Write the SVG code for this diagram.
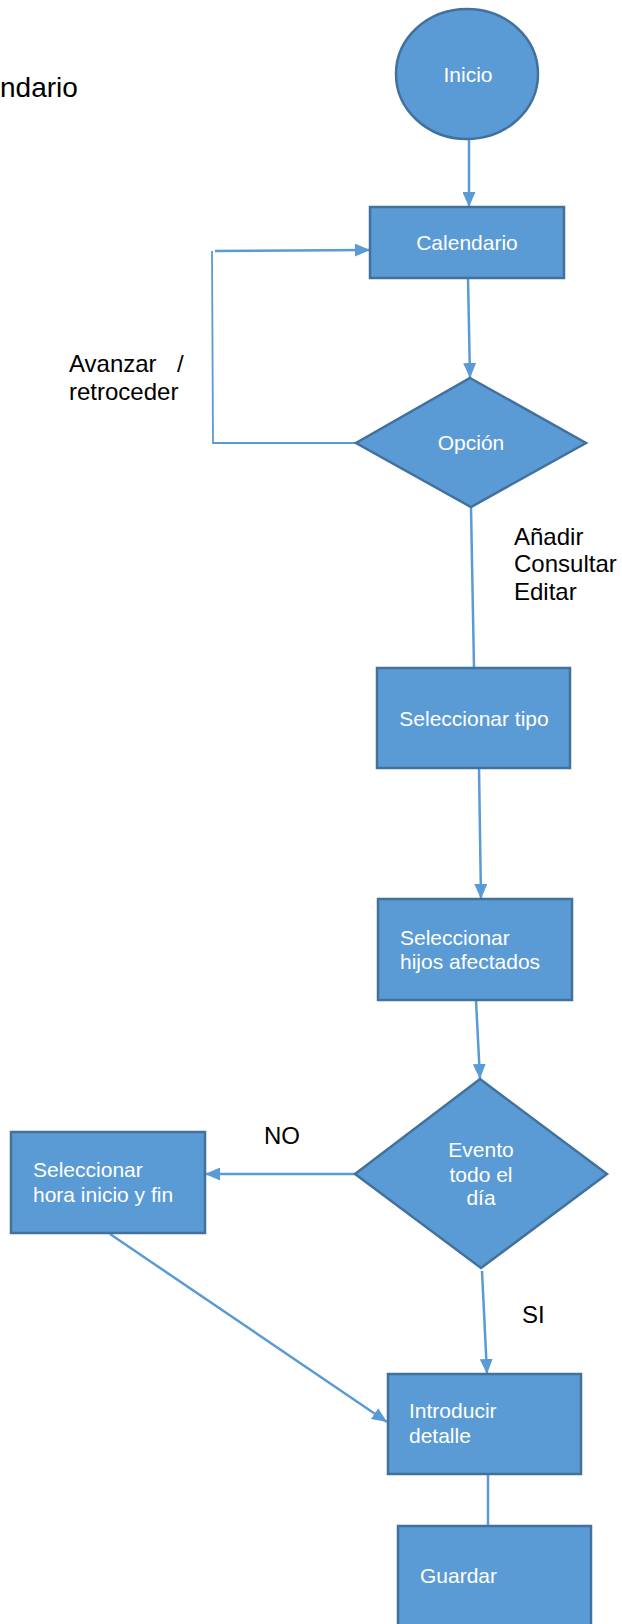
<svg xmlns="http://www.w3.org/2000/svg" width="622" height="1624" viewBox="0 0 622 1624">
<defs>
<marker id="arr" markerUnits="userSpaceOnUse" markerWidth="15" markerHeight="13" refX="15" refY="6.5" orient="auto">
<path d="M0,0 L15,6.5 L0,13 z" fill="#5B9BD5"/>
</marker>
<style>
.node{fill:#5B9BD5;stroke:#41719C;stroke-width:2.5}
.wt{fill:#FFFFFF;font-family:"Liberation Sans",Arial,sans-serif;font-size:21px}
.lbl{fill:#000000;font-family:"Liberation Sans",Arial,sans-serif;font-size:24px}
.con{fill:none;stroke:#5B9BD5;stroke-width:2.5}
.thin{fill:none;stroke:#5B9BD5;stroke-width:1.8}
</style>
</defs>
<rect width="622" height="1624" fill="#FFFFFF"/>
<text class="lbl" x="0" y="97" style="font-size:28px">ndario</text>

<g id="connectors">
<line class="con" x1="469" y1="140" x2="469" y2="207" marker-end="url(#arr)"/>
<line class="con" x1="468" y1="278" x2="470" y2="378" marker-end="url(#arr)"/>
<polyline class="thin" points="356,443 213,443 212,251"/>
<line class="con" x1="215" y1="251" x2="370" y2="250" marker-end="url(#arr)"/>
<line class="con" x1="471" y1="507" x2="474" y2="668"/>
<line class="con" x1="479" y1="768" x2="481" y2="899" marker-end="url(#arr)"/>
<line class="con" x1="476" y1="1000" x2="480" y2="1079" marker-end="url(#arr)"/>
<line class="con" x1="355" y1="1174" x2="205" y2="1174" marker-end="url(#arr)"/>
<line class="con" x1="110" y1="1234" x2="387" y2="1422" marker-end="url(#arr)"/>
<line class="con" x1="482" y1="1271" x2="487" y2="1374" marker-end="url(#arr)"/>
<line class="con" x1="488" y1="1474" x2="488" y2="1526"/>
</g>

<g id="labels">
<text class="lbl" x="69" y="372">Avanzar</text>
<text class="lbl" x="177" y="372">/</text>
<text class="lbl" x="69" y="400">retroceder</text>
<text class="lbl" x="514" y="545">Añadir</text>
<text class="lbl" x="514" y="572">Consultar</text>
<text class="lbl" x="514" y="600">Editar</text>
<text class="lbl" x="264" y="1144">NO</text>
<text class="lbl" x="522" y="1323">SI</text>
</g>

<g id="inicio">
<ellipse class="node" cx="467" cy="74" rx="71" ry="65"/>
<text class="wt" x="468" y="82" text-anchor="middle">Inicio</text>
</g>
<g id="calendario">
<rect class="node" x="370" y="207" width="194" height="71"/>
<text class="wt" x="467" y="250" text-anchor="middle">Calendario</text>
</g>
<g id="opcion">
<polygon class="node" points="470,378 586,443 471,507 356,443"/>
<text class="wt" x="471" y="450" text-anchor="middle">Opción</text>
</g>
<g id="seleccionar-tipo">
<rect class="node" x="377" y="668" width="193" height="100"/>
<text class="wt" x="474" y="726" text-anchor="middle">Seleccionar tipo</text>
</g>
<g id="seleccionar-hijos">
<rect class="node" x="378" y="899" width="194" height="101"/>
<text class="wt" x="400" y="945">Seleccionar</text>
<text class="wt" x="400" y="969">hijos afectados</text>
</g>
<g id="evento">
<polygon class="node" points="480,1079 607,1174 481,1268 355,1174"/>
<text class="wt" x="481" y="1157" text-anchor="middle">Evento</text>
<text class="wt" x="481" y="1182" text-anchor="middle">todo el</text>
<text class="wt" x="481" y="1205" text-anchor="middle">día</text>
</g>
<g id="seleccionar-hora">
<rect class="node" x="11" y="1132" width="194" height="101"/>
<text class="wt" x="33" y="1177">Seleccionar</text>
<text class="wt" x="33" y="1202">hora inicio y fin</text>
</g>
<g id="introducir">
<rect class="node" x="388" y="1374" width="193" height="100"/>
<text class="wt" x="409" y="1418">Introducir</text>
<text class="wt" x="409" y="1443">detalle</text>
</g>
<g id="guardar">
<rect class="node" x="398" y="1526" width="193" height="110"/>
<text class="wt" x="420" y="1583">Guardar</text>
</g>
</svg>
